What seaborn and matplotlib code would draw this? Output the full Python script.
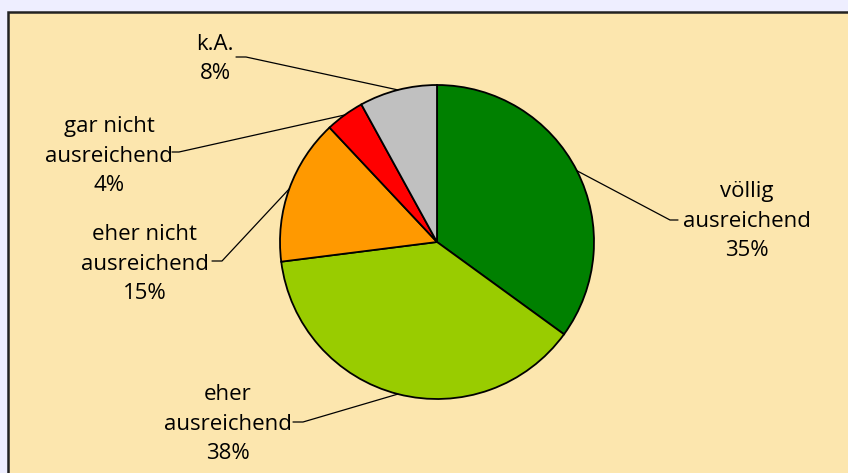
import numpy as np
import matplotlib
matplotlib.use("Agg")
import matplotlib.pyplot as plt
import seaborn as sns
from matplotlib.patches import Rectangle

# data
categories = ["völlig\nausreichend", "eher\nausreichend", "eher nicht\nausreichend",
              "gar nicht\nausreichend", "k.A."]
shares = [35, 38, 15, 4, 8]
colors = ["#008000", "#99CC00", "#FF9900", "#FF0000", "#C0C0C0"]

# layout (pixels, y measured from top): label centre, leader elbow, leader end near text
label_xy = [(747, 221), (228, 424), (145, 264), (109, 156), (215, 59)]
elbow_xy = [(670, 220), (303, 422), (222, 261), (179, 152), (246, 57)]
end_x = [678, 293, 212, 172, 236]

W, H = 848, 473
sns.set_style("white")
plt.rcParams["font.family"] = ["Open Sans", "DejaVu Sans"]

fig = plt.figure(figsize=(W / 100, H / 100), dpi=100)
fig.patch.set_facecolor("#EEEEFF")
ax = fig.add_axes([0, 0, 1, 1])

# chart frame
ax.add_patch(Rectangle((8, -10), W + 20, H - 12 + 10, facecolor="#FCE6AE",
                       edgecolor="#222222", linewidth=1.8, zorder=0))

cx, cy, r = 437, H - 242, 157
wedges, _ = ax.pie(shares, colors=colors, startangle=90, counterclock=False,
                   center=(cx, cy), radius=r, frame=True,
                   wedgeprops=dict(edgecolor="black", linewidth=1.3))
ax.set_xlim(0, W)
ax.set_ylim(0, H)
ax.set_aspect("equal")
ax.axis("off")

for w, cat, v, (tx, ty), (ex, ey), hx in zip(wedges, categories, shares,
                                             label_xy, elbow_xy, end_x):
    mid = np.deg2rad((w.theta1 + w.theta2) / 2)
    px = w.center[0] + w.r * np.cos(mid)
    py = w.center[1] + w.r * np.sin(mid)
    ax.plot([px, ex, hx], [py, H - ey, H - ey], color="black", linewidth=0.9, zorder=3)
    ax.text(tx, H - ty, f"{cat}\n{v}%", ha="center", va="center",
            fontsize=16, linespacing=1.52, color="black")

fig.savefig("out.png", dpi=100, facecolor=fig.get_facecolor())
